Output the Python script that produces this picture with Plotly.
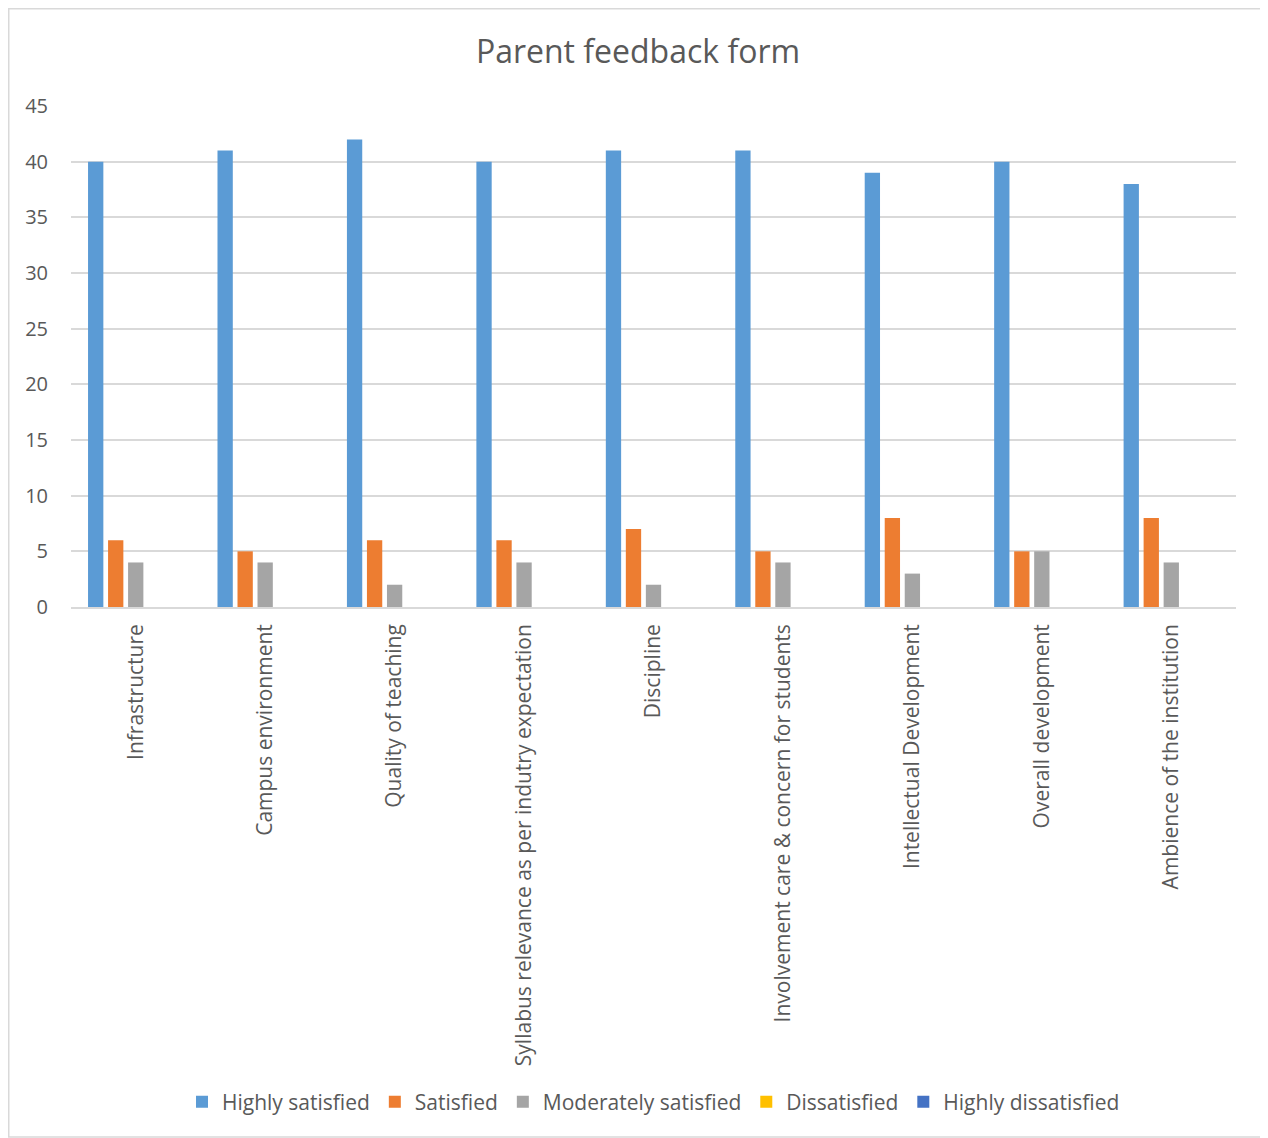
import plotly.graph_objects as go

categories = [
    "Infrastructure",
    "Campus environment",
    "Quality of teaching",
    "Syllabus relevance as per indutry expectation",
    "Discipline",
    "Involvement care & concern for students",
    "Intellectual Development",
    "Overall development",
    "Ambience of the institution",
]
highly_satisfied = [40, 41, 42, 40, 41, 41, 39, 40, 38]
satisfied = [6, 5, 6, 6, 7, 5, 8, 5, 8]
moderately_satisfied = [4, 4, 2, 4, 2, 4, 3, 5, 4]
dissatisfied = [0, 0, 0, 0, 0, 0, 0, 0, 0]
highly_dissatisfied = [0, 0, 0, 0, 0, 0, 0, 0, 0]

series_names = ["Highly satisfied", "Satisfied", "Moderately satisfied",
                "Dissatisfied", "Highly dissatisfied"]
series_values = [highly_satisfied, satisfied, moderately_satisfied,
                 dissatisfied, highly_dissatisfied]
colors = ["#5B9BD5", "#ED7D31", "#A5A5A5", "#FFC000", "#4472C4"]

FONT = "Open Sans"
TXT = "#595959"

W, H = 1260, 1130
PL, PR, PT, PB = 63, 1228, 98, 599
PW, PH = PR - PL, PB - PT

fig = go.Figure()
for name, vals, col in zip(series_names, series_values, colors):
    fig.add_trace(go.Bar(
        x=categories, y=vals, name=name,
        marker=dict(color=col, line=dict(width=0)),
    ))

fig.update_layout(
    width=W, height=H,
    paper_bgcolor="white", plot_bgcolor="white",
    barmode="group", bargap=0.227, bargroupgap=0.235,
    margin=dict(l=PL, r=W - PR, t=PT, b=H - PB, autoexpand=False),
    title=dict(text="Parent feedback form", x=0.5, xanchor="center",
               y=1 - 44 / H, yanchor="middle", yref="container",
               font=dict(family=FONT, size=32, color=TXT)),
    font=dict(family=FONT, color=TXT),
    showlegend=True,
    legend=dict(orientation="h", x=0.5, xanchor="center",
                y=(PB - 1094) / PH, yanchor="middle",
                font=dict(family=FONT, size=21, color=TXT),
                itemwidth=30, tracegroupgap=0,
                bgcolor="rgba(0,0,0,0)"),
    xaxis=dict(automargin=False, tickangle=-90, showgrid=False,
               showline=True, linecolor="#D9D9D9", linewidth=1.5,
               ticks="", ticklabelstandoff=7,
               tickfont=dict(family=FONT, size=21, color=TXT)),
    yaxis=dict(automargin=False, range=[0, 45], dtick=5, tick0=0,
               showgrid=True, gridcolor="#D9D9D9", gridwidth=1.5,
               zeroline=False, showline=False, ticks="",
               ticklabelstandoff=22,
               tickfont=dict(family=FONT, size=20, color=TXT)),
    shapes=[dict(type="rect", xref="paper", yref="paper",
                 x0=(0.75 - PL) / PW, x1=(1257 - PL) / PW,
                 y0=(PB - 1129) / PH, y1=(PB - 0.75) / PH,
                 line=dict(color="#D9D9D9", width=1.5),
                 fillcolor="rgba(0,0,0,0)", layer="below")],
)

fig.write_html("out.html")
